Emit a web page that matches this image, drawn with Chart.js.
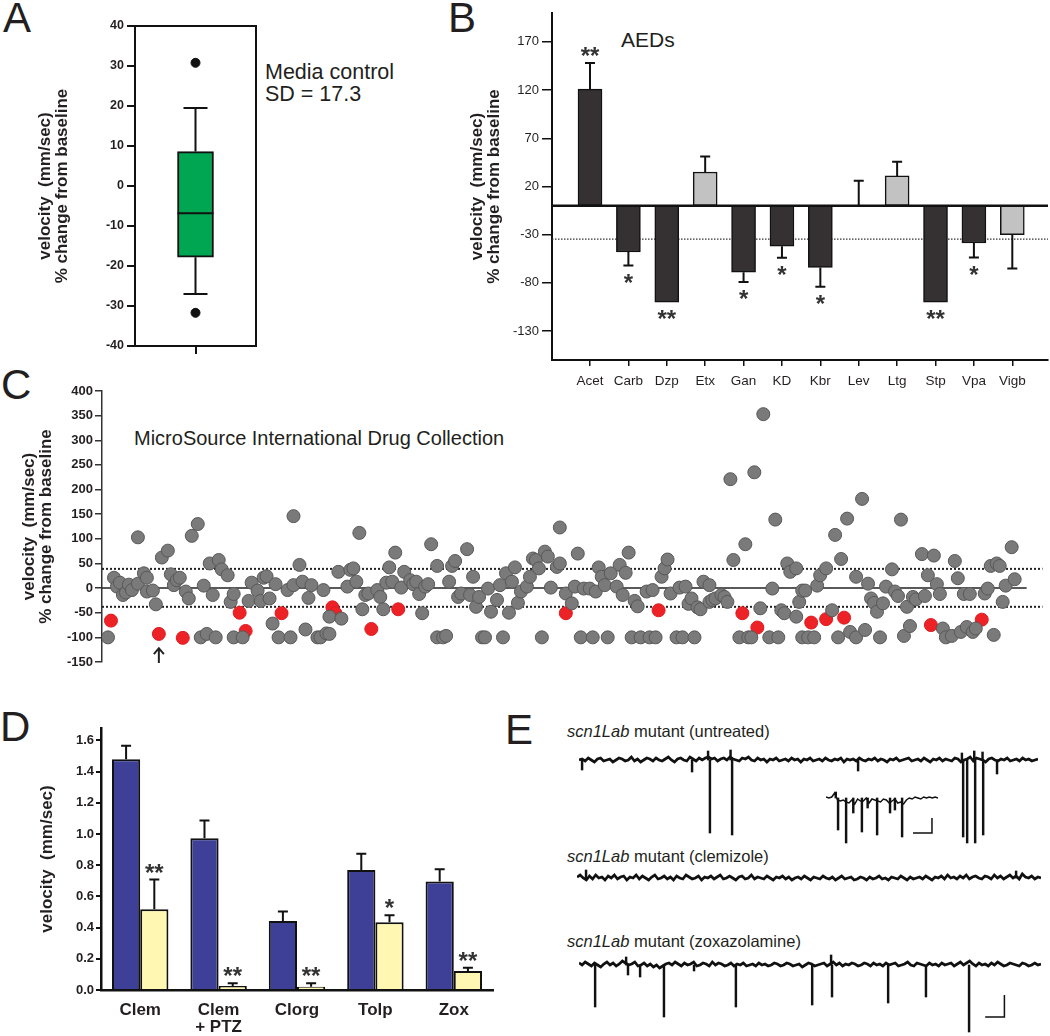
<!DOCTYPE html>
<html>
<head>
<meta charset="utf-8">
<script src="https://cdn.jsdelivr.net/npm/chart.js@4.4.1/dist/chart.umd.min.js"></script>
<style>
  body { margin: 0; background: #fff; width: 1050px; height: 1036px; position: relative; overflow: hidden;
         font-family: Arial, "Liberation Sans", Helvetica, sans-serif; color: #231f20; }
  canvas { position: absolute; }
  .t { position: absolute; white-space: nowrap; line-height: 1; }
  .letter { font-size: 42px; }
</style>
</head>
<body>
<div class="t letter" style="left:3px;top:-3px">A</div>
<div class="t letter" style="left:448px;top:-3px">B</div>
<div class="t letter" style="left:1px;top:364px">C</div>
<div class="t letter" style="left:0px;top:706px">D</div>
<div class="t letter" style="left:505px;top:709px">E</div>

<div class="t" style="left:265px;top:62px;font-size:21.5px">Media control</div>
<div class="t" style="left:265px;top:84px;font-size:21.5px">SD = 17.3</div>
<div class="t" style="left:621px;top:29px;font-size:21px">AEDs</div>
<div class="t" style="left:134px;top:428px;font-size:20px">MicroSource International Drug Collection</div>
<div class="t" style="left:567px;top:723px;font-size:16.5px"><i>scn1Lab</i> mutant (untreated)</div>
<div class="t" style="left:567px;top:848px;font-size:16.5px"><i>scn1Lab</i> mutant (clemizole)</div>
<div class="t" style="left:567px;top:933px;font-size:16.5px"><i>scn1Lab</i> mutant (zoxazolamine)</div>

<canvas id="boxChart" width="270" height="372" style="left:0;top:0"></canvas>
<canvas id="aedChart" width="620" height="400" style="left:430px;top:0"></canvas>
<canvas id="screenChart" width="1050" height="300" style="left:0;top:375px"></canvas>
<canvas id="treatChart" width="520" height="336" style="left:0;top:700px"></canvas>
<canvas id="traceUntreated" width="459" height="105" style="left:579px;top:745px"></canvas>
<canvas id="traceInset" width="112" height="70" style="left:826px;top:780px"></canvas>
<canvas id="traceClemizole" width="464" height="20" style="left:577px;top:868px"></canvas>
<canvas id="traceZoxazolamine" width="462" height="86" style="left:579px;top:950px"></canvas>

<script>
// ---- panel A: media control box plot ----
const boxStats = [-27, -17.8, -6.8, 8.6, 19.5];   // min, q1, median, q3, max
const boxOutliers = [30.8, -31.7];

// ---- panel B: AEDs ----
const aedNames = ['Acet', 'Carb', 'Dzp', 'Etx', 'Gan', 'KD', 'Kbr', 'Lev', 'Ltg', 'Stp', 'Vpa', 'Vigb'];
const aedMean = [121, -48, -100, 35, -69, -42, -64, 0, 31, -100, -38.6, -30];
const aedErr = [27, 14, 0, 16, 10, 12, 20, 26, 14.6, 0, 15, 35];
const aedSig = ['**', '*', '**', '', '*', '*', '*', '', '', '**', '*', ''];
const aedTicks = [-130, -80, -30, 20, 70, 120, 170];
const aedCutoff = -34.6;

// ---- panel C: drug screen, [compound #, % change] ----
const screenGray = [
  [2,-100],[4,21],[5,3],[6,11],[7,-14],[8,-9],[9,7],[10,-4],[12,103],[12,9],[14,30],[15,21],[15,-7],
  [17,-5],[18,-33],[20,62],[22,76],[23,28],[24,6],[25,16],[26,21],[28,-7],[29,-21],[30,106],[32,130],
  [33,-100],[34,5],[35,-93],[36,50],[37,-14],[38,-100],[39,57],[40,38],[42,26],[43,-28],[44,-12],
  [44,-100],[47,-100],[49,-26],[50,11],[52,-5],[53,-26],[54,21],[55,24],[56,-21],[57,-72],[58,8],
  [59,-100],[62,-4],[63,-100],[64,6],[64,146],[66,47],[67,13],[68,-84],[69,-20],[70,6],[72,-100],
  [73,-100],[74,-4],[75,-92],[76,-58],[76,-93],[79,33],[80,-62],[82,3],[83,37],[84,40],[85,13],
  [86,112],[87,-43],[88,-14],[89,-11],[92,-4],[93,-18],[94,-43],[95,11],[96,42],[97,13],[98,72],
  [100,1],[101,33],[103,16],[104,8],[105,13],[106,-12],[107,-51],[108,3],[109,8],[110,89],[112,45],
  [112,-100],[114,-100],[115,-97],[116,13],[117,45],[118,55],[119,-18],[120,-11],[122,79],[123,-14],
  [124,23],[125,-38],[126,-18],[127,-100],[128,-100],[129,-1],[130,-48],[132,-24],[133,6],[134,-100],
  [135,30],[136,-50],[137,13],[138,42],[139,-30],[140,-7],[142,3],[143,23],[144,60],[145,57],[146,40],
  [147,-100],[148,74],[149,64],[150,1],[152,43],[153,50],[153,123],[155,-11],[157,-31],[158,3],
  [159,70],[160,-100],[161,-1],[163,-1],[164,-100],[165,-7],[166,42],[167,23],[168,6],[169,-100],
  [170,30],[172,3],[173,47],[174,-14],[175,31],[176,72],[177,-100],[178,-26],[179,-37],[180,-100],
  [182,-7],[183,-100],[184,-4],[185,-100],[187,23],[188,40],[189,58],[190,-11],[192,-100],[193,1],
  [194,-100],[195,3],[196,-32],[197,-21],[198,-100],[199,-39],[200,-43],[201,13],[203,6],[203,-28],
  [204,-24],[205,-21],[207,-14],[208,-18],[209,-28],[210,221],[211,57],[213,-100],[215,89],[216,-100],
  [217,-100],[218,235],[220,-41],[221,353],[223,-100],[224,-1],[225,139],[226,-100],[227,-45],
  [228,-51],[229,50],[230,33],[232,40],[232,-58],[233,-28],[234,-100],[234,-5],[235,-5],[236,-100],
  [238,-100],[239,5],[240,26],[242,40],[244,-45],[245,108],[246,-100],[247,59],[249,141],[250,-89],
  [252,-100],[252,23],[254,181],[255,-85],[256,9],[257,-21],[258,-30],[259,-48],[260,-100],[261,-31],
  [262,3],[264,38],[265,-7],[266,-16],[267,139],[268,-97],[269,-38],[270,-77],[271,-18],[272,-23],
  [274,69],[275,-16],[276,26],[278,66],[279,8],[280,-12],[281,-82],[282,-100],[284,-97],[285,55],
  [286,20],[287,-89],[288,-12],[289,-79],[290,-12],[291,-89],[292,-82],[295,-11],[296,-1],[297,45],
  [298,-95],[299,50],[300,45],[301,-28],[302,5],[304,83],[305,18]
];
const screenHits = [
  [3,-66],[19,-93],[27,-101],[46,-50],[48,-87],[60,-51],[77,-39],[78,-51],[90,-83],[99,-43],
  [155,-51],[186,-45],[214,-51],[219,-80],[237,-70],[242,-63],[248,-60],[277,-75],[294,-64]
];
const screenCutoffs = [39, -38];
const zeroLineEnd = 309;
const arrowAt = 19;

// ---- panel D: treatments ----
const treatNames = ['Clem', ['Clem', '+ PTZ'], 'Clorg', 'Tolp', 'Zox'];
const baseVel = [1.48, 0.973, 0.443, 0.77, 0.695];
const baseErr = [0.086, 0.114, 0.06, 0.103, 0.079];
const drugVel = [0.518, 0.026, 0.021, 0.434, 0.122];
const drugErr = [0.19, 0.017, 0.022, 0.046, 0.021];
const drugSig = ['**', '**', '**', '*', '**'];
const velTicks = [0, 0.2, 0.4, 0.6, 0.8, 1.0, 1.2, 1.4, 1.6];

// ---- panel E: field recordings (sample #, arbitrary units) ----
const untreatedBase = [
  0,1,-1,2,0,-2,1,2,-1,0, 1,-2,0,2,1,-1,0,3,-1,1, -2,0,2,1,-1,2,0,-1,1,3,
  0,-2,1,2,0,-1,3,1,-1,2, 0,2,3,1,2,-1,1,2,0,3, 1,0,-1,2,1,3,0,-1,2,0,
  1,-2,1,0,2,-1,0,1,-1,2, 0,1,-2,1,0,2,-1,0,1,-1, 2,0,-1,1,0,2,-2,1,0,1,
  -1,2,0,-1,1,0,2,-1,1,0, -2,1,0,2,-1,0,1,2,-1,0, 1,-1,2,0,-2,1,0,2,-1,1,
  0,-1,2,1,-2,0,1,3,-1,2, 1,0,-2,1,2,0,-1,1,0,2, -1,0,1,-1,2,0,1,-1,0,1
];
const untreatedSpikes = [
  [1.0,-10],[36.7,-12],[41.9,9],[42.5,-73],[49.2,10],[49.7,-75],[90.6,-11],
  [124.3,7],[124.7,-77],[126.0,-83],[128.3,9],[128.6,-83],[131.0,8],[131.2,-75],[135.7,-14]
];
const insetBase = [
  1,0,1,5,-2,-3,-2,-4,-5,-2, -6,-1,-3,-3,0,-5,-1,-2,-3,-4,
  -1,-2,-5,-3,-1,-5,-4,-6,-2,0, -1,1,0,-1,1,0,1,0,1,0
];
const insetSpikes = [[3.4,6],[4.2,-32],[7.0,-45],[9.5,-15],[12.5,-34],[14.5,-10],[17.8,-37],[22.3,-15],[24.0,-12],[26.5,-39]];
const clemizoleBase = [
  1,3,0,-2,2,-1,3,0,1,-2, 2,0,3,-1,1,2,-2,1,0,3, -1,2,0,-2,1,3,-1,0,2,-1,
  1,-2,2,0,-1,3,1,-1,0,2, -2,1,0,2,-1,1,3,-1,0,2, 0,-2,1,2,-1,0,3,-1,1,0,
  -1,2,0,-2,1,0,2,-1,1,-2, 0,1,-1,2,0,-2,1,0,-1,2, 0,-1,1,-2,0,2,-1,0,1,-2,
  -1,1,0,-2,1,-1,0,2,-1,0, -2,1,0,-1,2,0,-2,1,-1,0, 1,-1,2,0,-2,1,0,2,-1,3,
  0,1,-1,2,0,3,-1,1,2,0, -1,2,1,-1,3,0,2,-1,1,3, 0,2,-1,4,1,0,2,-1,1,0
];
const clemizoleSpikes = [[2.9,8],[141.0,7]];
const zoxBase = [
  2,0,3,1,-1,2,0,-2,1,3, 0,2,-1,1,4,2,0,1,3,-1, 0,2,-1,1,-2,0,-3,-1,1,2,
  0,3,1,-1,2,0,1,3,-1,0, 2,1,-1,3,0,2,1,-1,0,2, -1,1,0,2,-1,0,1,-1,2,0,
  1,-1,0,2,1,-1,0,2,1,-1, 0,1,-2,0,2,1,-1,0,1,2, -1,1,3,0,2,-1,1,0,2,1,
  -1,0,2,1,-1,2,0,1,-1,2, 0,1,2,-1,0,1,3,0,-1,2, 1,0,-1,2,0,1,-1,2,0,1,
  2,-1,1,3,0,2,4,1,-1,2, 0,1,-1,2,0,3,1,-1,0,2, 1,0,-1,2,1,-1,0,2,0,1
];
const zoxSpikes = [
  [5.2,-42],[15.2,8],[15.8,-10],[19.7,-12],[27.4,-52],[37.1,-6],[50.6,-42],[75.2,-40],
  [81.3,10],[81.6,-32],[99.7,-38],[111.9,-32],[125.8,-67]
];
const insetScaleBar = { x0: 30.3, x1: 36.9, y0: -35, y1: -20 };
const zoxScaleBar = { x0: 131.0, x1: 137.2, y0: -52, y1: -30 };

const INK = '#231f20';
Chart.defaults.font.family = 'Arial, "Liberation Sans", Helvetica, sans-serif';
Chart.defaults.color = INK;
Chart.defaults.animation = false;
Chart.defaults.events = [];
Chart.defaults.plugins.legend.display = false;
Chart.defaults.plugins.tooltip.enabled = false;

const yTitle = text => ({
  display: true, text: text, color: INK,
  font: { size: 17, weight: 'bold', lineHeight: 1.05 },
  padding: { top: 8, bottom: 0 }
});

function drawStar(ctx, text, x, yCenter, size) {
  ctx.font = 'bold ' + size + 'px Arial, "Liberation Sans", sans-serif';
  ctx.textAlign = 'center';
  ctx.textBaseline = 'alphabetic';
  ctx.fillStyle = '#333';
  ctx.fillText(text, x, yCenter + size * 0.55);
}

// error bars drawn away from zero, with significance stars past their ends
const errorBars = {
  id: 'errorBars',
  afterDatasetsDraw(chart, args, opts) {
    const { ctx } = chart;
    const yScale = chart.scales.y;
    (opts.sets || []).forEach(set => {
      const meta = chart.getDatasetMeta(set.dataset);
      const raw = chart.data.datasets[set.dataset].data;
      meta.data.forEach((bar, i) => {
        const v = typeof raw[i] === 'object' ? raw[i].y : raw[i];
        const dir = v < 0 ? -1 : 1;
        const e = set.err[i] || 0;
        const yBar = yScale.getPixelForValue(v);
        const yEnd = yScale.getPixelForValue(v + dir * e);
        ctx.save();
        ctx.strokeStyle = '#111';
        ctx.lineWidth = 2;
        if (e > 0) {
          ctx.beginPath();
          ctx.moveTo(bar.x, yBar);
          ctx.lineTo(bar.x, yEnd);
          ctx.moveTo(bar.x - set.cap, yEnd);
          ctx.lineTo(bar.x + set.cap, yEnd);
          ctx.stroke();
        }
        if (set.sig && set.sig[i]) {
          drawStar(ctx, set.sig[i], bar.x, yEnd - dir * set.gap, set.starSize);
        }
        ctx.restore();
      });
    });
  }
};

// ---------- A ----------
const boxPlugin = {
  id: 'boxParts',
  afterDatasetsDraw(chart) {
    const { ctx, chartArea: a, scales: { x, y } } = chart;
    const cx = x.getPixelForValue(0);
    const half = 18;
    ctx.save();
    ctx.strokeStyle = '#111';
    ctx.lineWidth = 2;
    ctx.beginPath();
    ctx.moveTo(cx, y.getPixelForValue(boxStats[3]));
    ctx.lineTo(cx, y.getPixelForValue(boxStats[4]));
    ctx.moveTo(cx, y.getPixelForValue(boxStats[1]));
    ctx.lineTo(cx, y.getPixelForValue(boxStats[0]));
    [boxStats[0], boxStats[4]].forEach(v => {
      ctx.moveTo(cx - 12, y.getPixelForValue(v));
      ctx.lineTo(cx + 12, y.getPixelForValue(v));
    });
    ctx.moveTo(cx - half, y.getPixelForValue(boxStats[2]));
    ctx.lineTo(cx + half, y.getPixelForValue(boxStats[2]));
    ctx.stroke();
    ctx.strokeRect(a.left, a.top, a.right - a.left, a.bottom - a.top);
    ctx.restore();
  }
};

new Chart(document.getElementById('boxChart'), {
  type: 'bar',
  data: {
    labels: [''],
    datasets: [
      { data: [[boxStats[1], boxStats[3]]], backgroundColor: '#00a651', borderColor: '#111',
        borderWidth: 2, borderSkipped: false, barThickness: 36 },
      { type: 'line', data: boxOutliers.map(v => ({ x: 0, y: v })), showLine: false,
        pointRadius: 4.5, pointBackgroundColor: '#111', pointBorderColor: '#111' }
    ]
  },
  options: {
    responsive: false,
    layout: { padding: { left: 28, top: 26, right: 14, bottom: 0 } },
    scales: {
      x: {
        afterFit: s => { s.height = 26; },
        grid: { offset: false, drawOnChartArea: false, tickLength: 8, color: '#111', lineWidth: 2 },
        border: { display: false }
      },
      y: {
        min: -40, max: 40,
        afterFit: s => { s.width = 107; },
        ticks: { stepSize: 10, font: { size: 12.5, weight: 'bold' }, padding: 3, color: INK },
        grid: { drawOnChartArea: false, tickLength: 8, color: '#111', lineWidth: 2 },
        border: { color: '#111', width: 2 },
        title: yTitle(['velocity  (mm/sec)', '% change from baseline'])
      }
    }
  },
  plugins: [boxPlugin]
});

// ---------- B ----------
const aedLines = {
  id: 'aedLines',
  beforeDatasetsDraw(chart) {
    const { ctx, chartArea: a, scales: { y } } = chart;
    const yc = y.getPixelForValue(aedCutoff);
    ctx.save();
    ctx.strokeStyle = '#333';
    ctx.lineWidth = 1.3;
    ctx.setLineDash([1.5, 1.5]);
    ctx.beginPath(); ctx.moveTo(a.left, yc); ctx.lineTo(a.right, yc); ctx.stroke();
    ctx.restore();
  },
  afterDatasetsDraw(chart) {
    const { ctx, chartArea: a, scales: { y } } = chart;
    const y0 = y.getPixelForValue(0);
    ctx.save();
    ctx.strokeStyle = '#111';
    ctx.lineWidth = 2.5;
    ctx.beginPath(); ctx.moveTo(a.left, y0); ctx.lineTo(a.right, y0); ctx.stroke();
    ctx.restore();
  }
};

new Chart(document.getElementById('aedChart'), {
  type: 'bar',
  data: {
    datasets: [{
      data: aedMean.map((v, i) => ({ x: i, y: v })),
      backgroundColor: aedSig.map(s => s ? '#353132' : '#c2c2c2'),
      borderColor: '#111', borderWidth: 1.5, borderSkipped: false, barThickness: 24
    }]
  },
  options: {
    responsive: false,
    layout: { padding: { left: 30, top: 13, right: 2, bottom: 0 } },
    scales: {
      x: {
        type: 'linear', min: -0.99, max: 11.93, offset: false,
        afterFit: s => { s.height = 40; },
        afterBuildTicks: s => { s.ticks = aedNames.map((_, i) => ({ value: i })); },
        ticks: { callback: v => aedNames[v], autoSkip: false, maxRotation: 0, font: { size: 13.5 }, padding: 7, color: INK },
        grid: { offset: false, drawOnChartArea: false, tickLength: 6, color: '#111', lineWidth: 1.5 },
        border: { color: '#111', width: 2 }
      },
      y: {
        min: -160, max: 200,
        afterFit: s => { s.width = 92; },
        afterBuildTicks: s => { s.ticks = aedTicks.map(v => ({ value: v })); },
        ticks: { font: { size: 13 }, padding: 3, color: INK },
        grid: { drawOnChartArea: false, tickLength: 10, color: '#111', lineWidth: 1.5 },
        border: { color: '#111', width: 2 },
        title: yTitle(['velocity  (mm/sec)', '% change from baseline'])
      }
    },
    plugins: {
      errorBars: { sets: [{ dataset: 0, err: aedErr, sig: aedSig, cap: 5, gap: 12, starSize: 24 }] }
    }
  },
  plugins: [aedLines, errorBars]
});

// ---------- C ----------
const screenLines = {
  id: 'screenLines',
  beforeDatasetsDraw(chart) {
    const { ctx, chartArea: a, scales: { x, y } } = chart;
    const y0 = y.getPixelForValue(0);
    ctx.save();
    ctx.strokeStyle = '#222';
    ctx.lineWidth = 1.5;
    ctx.beginPath(); ctx.moveTo(a.left, y0); ctx.lineTo(x.getPixelForValue(zeroLineEnd), y0); ctx.stroke();
    ctx.lineWidth = 2;
    ctx.setLineDash([2, 2]);
    screenCutoffs.forEach(c => {
      const yc = y.getPixelForValue(c);
      ctx.beginPath(); ctx.moveTo(a.left, yc); ctx.lineTo(a.right, yc); ctx.stroke();
    });
    ctx.restore();
  },
  afterDatasetsDraw(chart) {
    const { ctx, scales: { x, y } } = chart;
    const ax = x.getPixelForValue(arrowAt);
    const top = y.getPixelForValue(-122);
    const bottom = y.getPixelForValue(-152);
    ctx.save();
    ctx.strokeStyle = '#222';
    ctx.lineWidth = 2;
    ctx.beginPath();
    ctx.moveTo(ax, bottom); ctx.lineTo(ax, top + 1);
    ctx.moveTo(ax - 5, top + 6); ctx.lineTo(ax, top); ctx.lineTo(ax + 5, top + 6);
    ctx.stroke();
    ctx.restore();
  }
};

new Chart(document.getElementById('screenChart'), {
  type: 'scatter',
  data: {
    datasets: [
      { data: screenGray.map(p => ({ x: p[0], y: p[1] })), pointRadius: 6.5, pointBorderWidth: 1,
        pointBackgroundColor: '#7a7a7a', pointBorderColor: '#585858' },
      { data: screenHits.map(p => ({ x: p[0], y: p[1] })), pointRadius: 6.5, pointBorderWidth: 1,
        pointBackgroundColor: '#ec2227', pointBorderColor: '#e01b20' }
    ]
  },
  options: {
    responsive: false,
    layout: { padding: { left: 12, top: 16, right: 5, bottom: 13 } },
    scales: {
      x: { type: 'linear', min: 0, max: 314.3, display: false },
      y: {
        min: -150, max: 400,
        afterFit: s => { s.width = 90; },
        ticks: { stepSize: 50, font: { size: 13, weight: 'bold' }, padding: 2, color: INK },
        grid: { drawOnChartArea: false, tickLength: 7, color: '#333', lineWidth: 1.5 },
        border: { color: '#333', width: 1.5 },
        title: yTitle(['velocity  (mm/sec)', '% change from baseline'])
      }
    }
  },
  plugins: [screenLines]
});

// ---------- D ----------
new Chart(document.getElementById('treatChart'), {
  type: 'bar',
  data: {
    labels: treatNames,
    datasets: [
      { data: baseVel, backgroundColor: '#3d4096', borderColor: '#111', borderWidth: 2,
        borderSkipped: 'bottom', categoryPercentage: 0.72, barPercentage: 1.0 },
      { data: drugVel, backgroundColor: '#fff7b2', borderColor: '#111', borderWidth: 2,
        borderSkipped: 'bottom', categoryPercentage: 0.72, barPercentage: 1.0 }
    ]
  },
  options: {
    responsive: false,
    layout: { padding: { left: 30, top: 28, right: 27, bottom: 0 } },
    scales: {
      x: {
        afterFit: s => { s.height = 46; },
        ticks: { font: { size: 17, weight: 'bold', lineHeight: 1.05 }, padding: 11, color: INK, maxRotation: 0 },
        grid: { display: false, drawTicks: false },
        border: { color: '#111', width: 2.5 }
      },
      y: {
        min: 0, max: 1.68,
        afterFit: s => { s.width = 71; },
        afterBuildTicks: s => { s.ticks = velTicks.map(v => ({ value: v })); },
        ticks: { callback: v => v.toFixed(1), font: { size: 13, weight: 'bold' }, padding: 2, color: INK },
        grid: { drawOnChartArea: false, tickLength: 5, color: '#111', lineWidth: 2 },
        border: { color: '#111', width: 2.5 },
        title: yTitle('velocity  (mm/sec)')
      }
    },
    plugins: {
      errorBars: { sets: [
        { dataset: 0, err: baseErr, cap: 5, gap: 12, starSize: 24 },
        { dataset: 1, err: drugErr, sig: drugSig, cap: 5, gap: 12, starSize: 24 }
      ] }
    }
  },
  plugins: [errorBars]
});

// ---------- E ----------
const scaleBarPlugin = {
  id: 'scaleBar',
  afterDatasetsDraw(chart, args, opts) {
    if (!opts.bar) return;
    const { ctx, scales: { x, y } } = chart;
    const b = opts.bar;
    ctx.save();
    ctx.strokeStyle = '#111';
    ctx.lineWidth = 1.5;
    ctx.beginPath();
    ctx.moveTo(x.getPixelForValue(b.x1), y.getPixelForValue(b.y1));
    ctx.lineTo(x.getPixelForValue(b.x1), y.getPixelForValue(b.y0));
    ctx.lineTo(x.getPixelForValue(b.x0), y.getPixelForValue(b.y0));
    ctx.stroke();
    ctx.restore();
  }
};

// noisy baseline as a line, fast spikes as hairline floating bars
function traceChart(id, base, spikes, yMin, yMax, width, bar) {
  new Chart(document.getElementById(id), {
    type: 'bar',
    data: {
      datasets: [
        { type: 'line', data: base.map((v, i) => ({ x: i, y: v })), borderColor: '#111',
          borderWidth: width, pointRadius: 0, tension: 0, clip: false },
        { data: spikes.map(s => ({ x: s[0], y: [0, s[1]] })), backgroundColor: '#111',
          borderWidth: 0, barThickness: 1.8, clip: false }
      ]
    },
    options: {
      responsive: false,
      layout: { padding: 0 },
      scales: {
        x: { type: 'linear', display: false, offset: false, min: 0, max: base.length - 1 },
        y: { display: false, min: yMin, max: yMax }
      },
      plugins: { scaleBar: { bar: bar } }
    },
    plugins: [scaleBarPlugin]
  });
}

traceChart('traceUntreated', untreatedBase, untreatedSpikes, -90, 15, 2.7, null);
traceChart('traceInset', insetBase, insetSpikes, -52, 18, 1.5, insetScaleBar);
traceChart('traceClemizole', clemizoleBase, clemizoleSpikes, -10, 10, 2.7, null);
traceChart('traceZoxazolamine', zoxBase, zoxSpikes, -71, 15, 2.7, zoxScaleBar);
</script>
</body>
</html>
